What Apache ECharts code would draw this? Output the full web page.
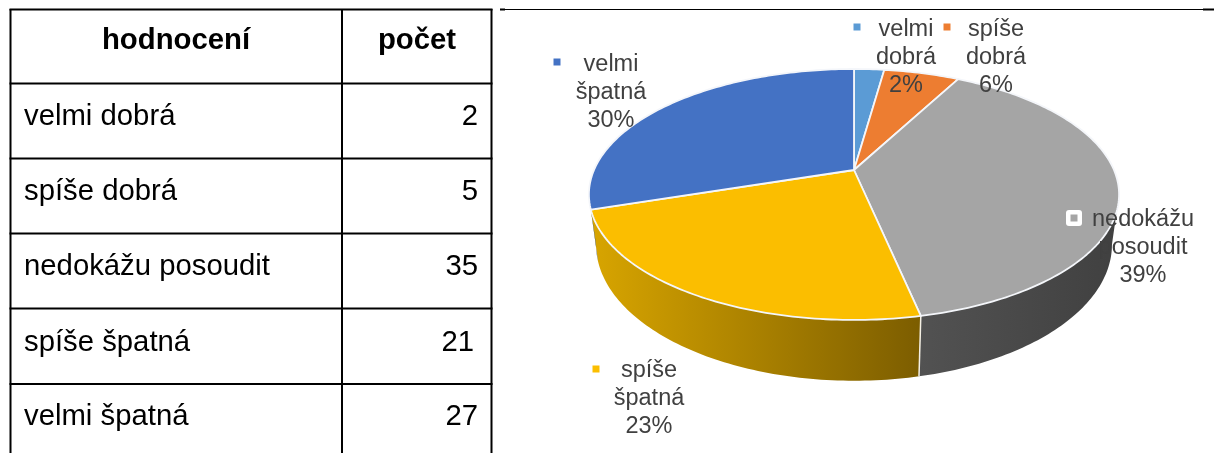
<!DOCTYPE html>
<html>
<head>
<meta charset="utf-8">
<script src="https://cdn.jsdelivr.net/npm/echarts@6/dist/echarts.min.js"></script>
<style>
  html, body { margin: 0; padding: 0; background: #fff; }
  #chart { width: 1214px; height: 453px; }
</style>
</head>
<body>
<div id="chart"></div>
<script>
const categories = ['velmi dobrá', 'spíše dobrá', 'nedokážu posoudit', 'spíše špatná', 'velmi špatná'];
const counts = [2, 5, 35, 21, 27];
const headers = ['hodnocení', 'počet'];

// look of the slices
const sliceColors = ['#5b9bd5', '#ed7d31', '#a5a5a5', '#fbbe00', '#4472c4'];
const wallColors = [
  ['#3f76a8', '#3f76a8'],
  ['#b25a20', '#b25a20'],
  ['#525252', '#404040'],
  ['#d8a500', '#7c5d00'],
  ['#2f5597', '#2f5597']
];
// label block position, marker position
const labelCenters = [[906, 58], [996, 58], [1143, 248], [649, 399], [611, 93]];
const markerCenters = [[857, 27], [947, 27], [1074, 218], [596, 369], [557, 62]];

const total = counts.reduce((a, b) => a + b, 0);
const cumulative = [];
counts.reduce((acc, v, i) => { cumulative[i] = acc; return acc + v; }, 0);

// perspective disc: top face and (slightly narrower) bottom face
const topFace = { cx: 854, cy: 170, a: 260, b: 120.7, k: 0.195 };
const bottomFace = { cx: 854, cy: 218, a: 253, b: 131, k: 0.195 };
const silhouette = (90 + Math.asin(topFace.k) * 180 / Math.PI);

function project(face, deg) {
  const t = deg * Math.PI / 180;
  const u = Math.sin(t), v = Math.cos(t);
  const w = 1 + face.k * v;
  return [face.cx + face.a * u / w, face.cy - face.b * v / w];
}

function arc(face, from, to) {
  const pts = [];
  const n = Math.max(2, Math.ceil(Math.abs(to - from)));
  for (let i = 0; i <= n; i++) pts.push(project(face, from + (to - from) * i / n));
  return pts;
}

function sliceAngles(i) {
  return [cumulative[i] / total * 360, (cumulative[i] + counts[i]) / total * 360];
}

function renderWall(params, api) {
  const i = api.value(0);
  const [s, e] = sliceAngles(i);
  const from = Math.max(s, silhouette), to = Math.min(e, 360 - silhouette);
  if (to <= from) return null;
  const pts = arc(topFace, from, to).concat(arc(bottomFace, to, from));
  const children = [{
    type: 'polygon',
    shape: { points: pts },
    style: {
      fill: new echarts.graphic.LinearGradient(0, 0, 1, 0, [
        { offset: 0, color: wallColors[i][0] },
        { offset: 1, color: wallColors[i][1] }
      ])
    }
  }];
  // seam between two front walls
  if (Math.abs(s - 180) < 60) {
    const a = project(topFace, s), b = project(bottomFace, s);
    children.push({
      type: 'line',
      z2: 5,
      shape: { x1: a[0], y1: a[1], x2: b[0], y2: b[1] },
      style: { stroke: '#f4f0e4', lineWidth: 1.5 }
    });
  }
  return { type: 'group', children };
}

function renderTop(params, api) {
  const i = api.value(0);
  const [s, e] = sliceAngles(i);
  const pts = [[topFace.cx, topFace.cy]].concat(arc(topFace, s, e));
  return {
    type: 'polygon',
    shape: { points: pts },
    style: { fill: sliceColors[i], stroke: '#f4f6fa', lineWidth: 1.8, lineJoin: 'round' }
  };
}

function renderLabel(params, api) {
  const i = api.value(0);
  const pct = Math.round(counts[i] / total * 100);
  const [mx, my] = markerCenters[i];
  const [lx, ly] = labelCenters[i];
  const children = [];
  if (categories[i] === 'nedokážu posoudit') {
    children.push({ type: 'rect', shape: { x: mx - 8, y: my - 8, width: 16, height: 16, r: 3 }, style: { fill: '#fff' } });
  }
  children.push({ type: 'rect', shape: { x: mx - 3.5, y: my - 3.5, width: 7, height: 7 }, style: { fill: sliceColors[i] } });
  children.push({
    type: 'text',
    style: {
      text: categories[i].replace(' ', '\n') + '\n' + pct + '%',
      x: lx, y: ly,
      align: 'center', verticalAlign: 'middle',
      lineHeight: 28,
      font: '23.5px "Liberation Sans"',
      fill: '#404040'
    }
  });
  return { type: 'group', children };
}

// table grid
const colX = [10.5, 342, 491.5];
const rowY = [9.5, 83.5, 158.5, 233.5, 308.5, 384];
const rowTextY = [117, 192, 267, 343, 417];
const tableBottom = 453;
const tableColor = '#000';

function tableGraphics() {
  const els = [];
  const line = (x1, y1, x2, y2, w) => els.push({
    type: 'line', shape: { x1, y1, x2, y2 }, style: { stroke: tableColor, lineWidth: w === undefined ? 2 : w }
  });
  colX.forEach(x => line(x, 9, x, tableBottom));
  rowY.forEach(y => line(9.5, y, 492.5, y));
  line(500, 9.5, 505, 9.5, 2);
  line(505, 9.5, 1203, 9.5, 1);
  line(1203, 9.5, 1214, 9.5, 2);

  const text = (str, x, y, align, bold) => els.push({
    type: 'text',
    style: {
      text: str, x, y, align, verticalAlign: 'middle',
      font: (bold ? 'bold ' : '') + '29.3px "Liberation Sans"',
      fill: '#000'
    }
  });
  text(headers[0], 176, 41, 'center', true);
  text(headers[1], 417, 41, 'center', true);
  categories.forEach((c, i) => {
    text(c, 24, rowTextY[i], 'left', false);
    text(String(counts[i]), i === 3 ? 474 : 478, rowTextY[i], 'right', false);
  });
  return els;
}

const chart = echarts.init(document.getElementById('chart'), null, { renderer: 'canvas' });
const indices = categories.map((c, i) => [i]);
chart.setOption({
  animation: false,
  backgroundColor: '#fff',
  graphic: { elements: tableGraphics() },
  series: [
    { type: 'custom', coordinateSystem: 'none', silent: true, z: 1, data: indices, renderItem: renderWall },
    { type: 'custom', coordinateSystem: 'none', silent: true, z: 2, data: indices, renderItem: renderTop },
    { type: 'custom', coordinateSystem: 'none', silent: true, z: 3, data: indices, renderItem: renderLabel }
  ]
});
</script>
</body>
</html>
